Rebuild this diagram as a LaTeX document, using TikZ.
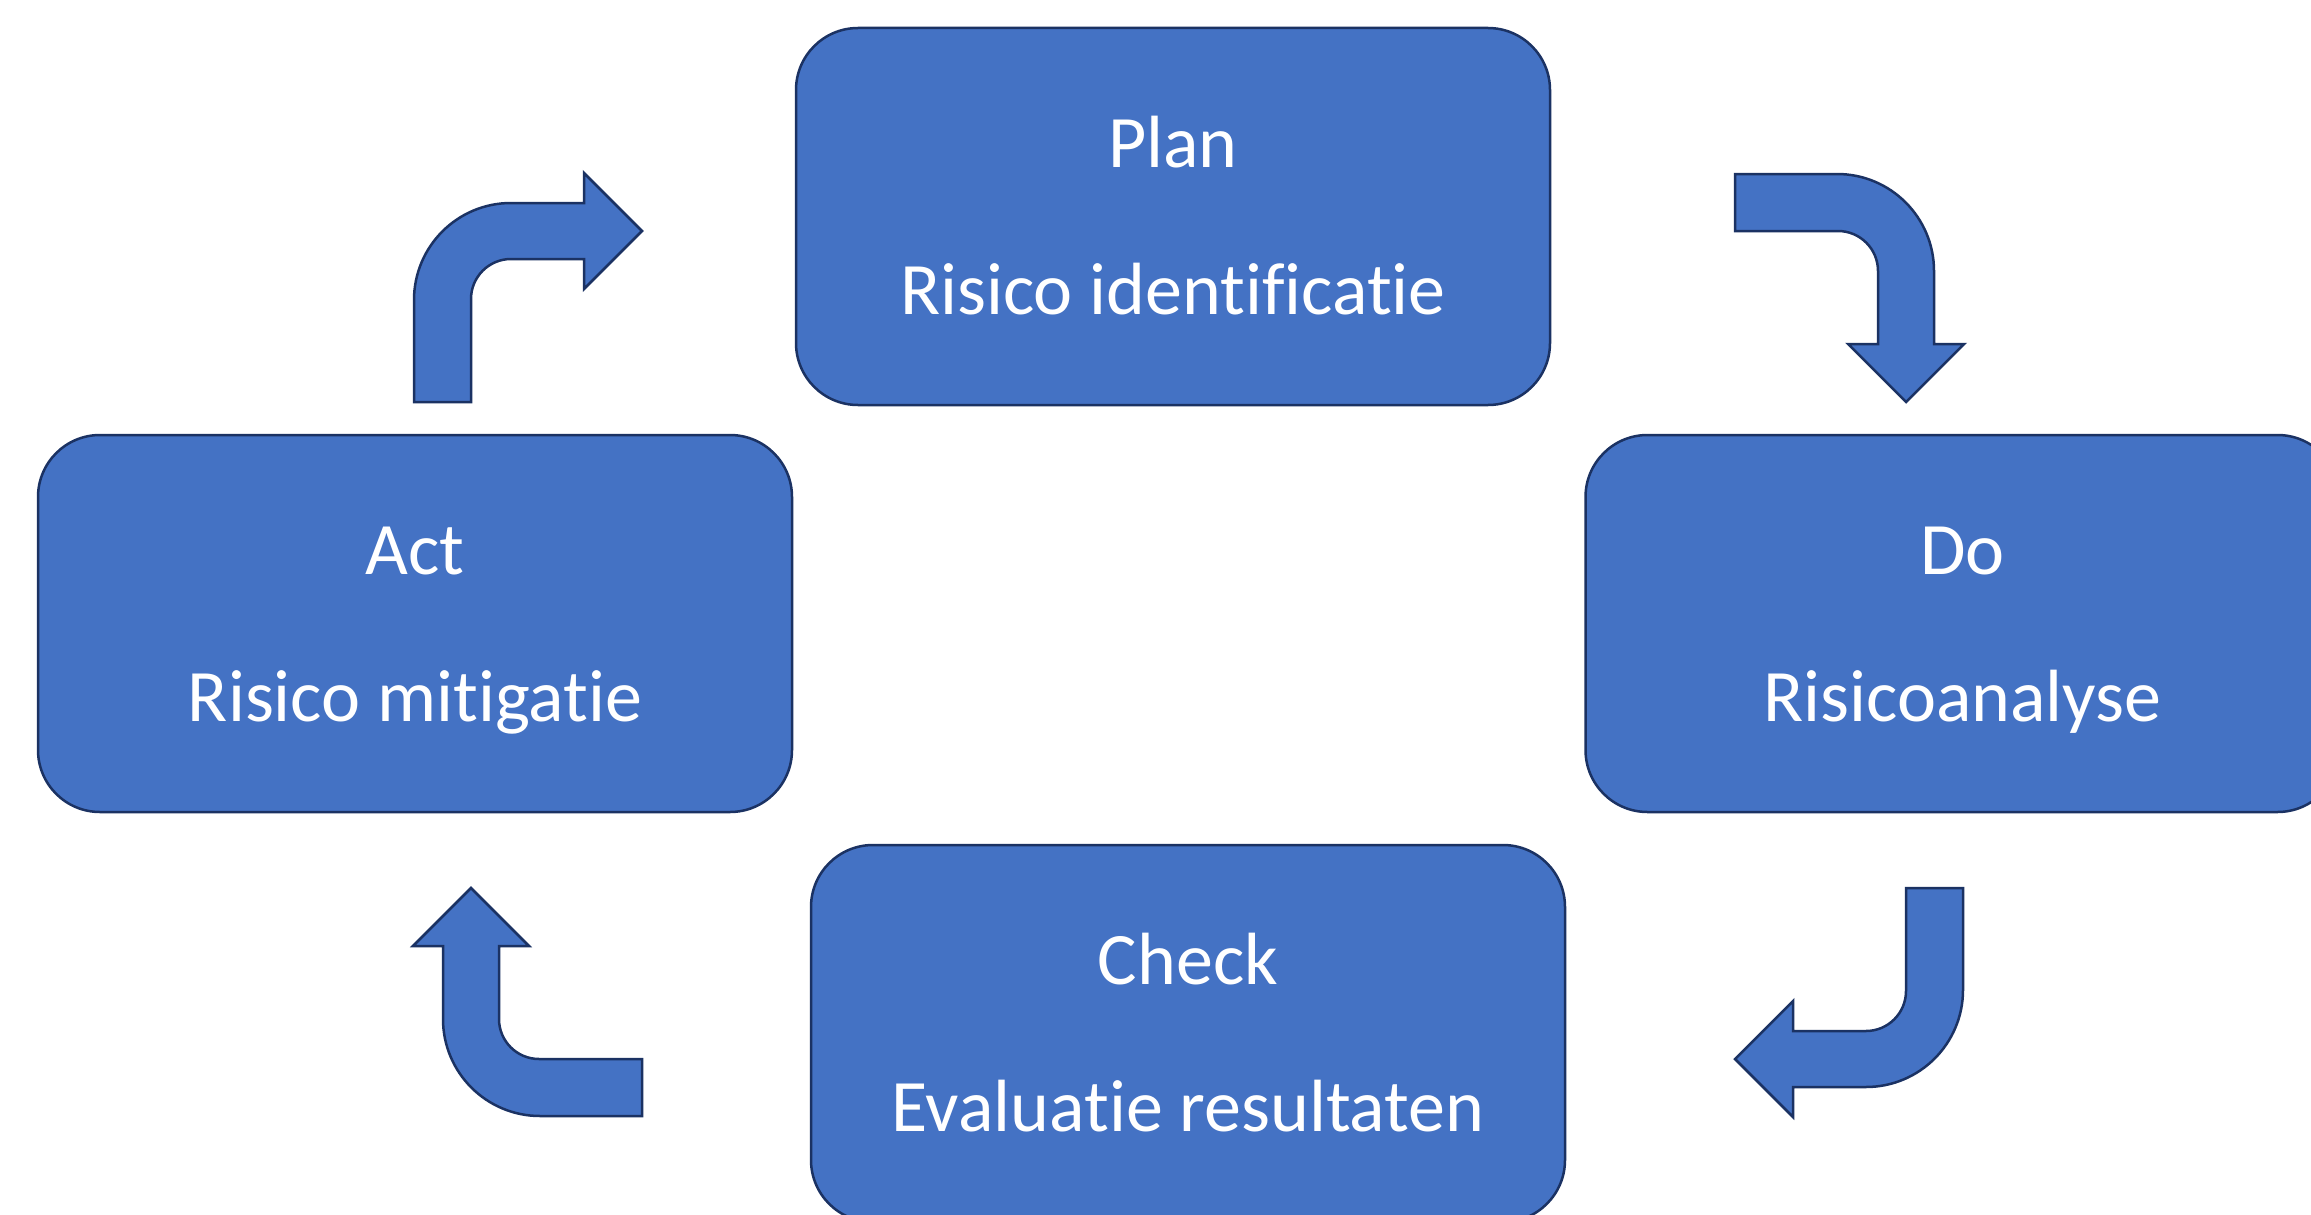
\documentclass[tikz,border=0pt]{standalone}
\usepackage{fontspec}
\setmainfont{Carlito}[Ligatures={NoCommon}]
\usetikzlibrary{calc}
\definecolor{boxblue}{HTML}{4472C4}
\definecolor{boxline}{HTML}{1B3263}
\tikzset{
  pdcabox/.style={rectangle, rounded corners=62pt, minimum width=754pt, minimum height=377pt, inner sep=0pt, fill=boxblue, draw=boxline, line width=2.5pt},
  boxlabel/.style={text=white, font=\fontsize{74}{88}\selectfont, anchor=base, inner sep=0pt},
  arrowshape/.style={fill=boxblue, draw=boxline, line width=2.5pt, line join=miter}
}
\newcommand{\bentArrowPath}{\path[arrowshape] (0,199) -- (0,97) arc[start angle=180,end angle=270,radius=97pt] -- (170,0) -- (170,-30) -- (228,28) -- (170,86) -- (170,56) -- (97,56) arc[start angle=270,end angle=180,radius=40pt] -- (57,199) -- cycle;}
\begin{document}
\begin{tikzpicture}[x=1pt,y=1pt,yscale=-1]
\useasboundingbox (0,0) rectangle (2311,1215);
\clip (0,0) rectangle (2311,1215);
\path[fill=white] (0,0) rectangle (2311,1215);

\node[pdcabox] (plan) at (1173,216.5) {};
\node[pdcabox] (act) at (415,623.5) {};
\node[pdcabox] (do) at (1962.5,623.5) {};
\node[pdcabox] (check) at (1188,1033.5) {};

\node[boxlabel] (planA) at ($(plan.north)+(0,141)$) {Plan};
\node[boxlabel] (planB) at ($(plan.north)+(0,288)$) {Risico identificatie};
\node[boxlabel] (actA) at ($(act.north)+(0,141)$) {Act};
\node[boxlabel] (actB) at ($(act.north)+(0,288)$) {Risico mitigatie};
\node[boxlabel] (doA) at ($(do.north)+(0,141)$) {Do};
\node[boxlabel] (doB) at ($(do.north)+(0,288)$) {Risicoanalyse};
\node[boxlabel] (checkA) at ($(check.north)+(0,141)$) {Check};
\node[boxlabel] (checkB) at ($(check.north)+(0,288)$) {Evaluatie resultaten};

\begin{scope}[shift={(414,203)}]\bentArrowPath\end{scope}
\begin{scope}[shift={(1934,174)},rotate=90]\bentArrowPath\end{scope}
\begin{scope}[shift={(1963,1087)},rotate=180]\bentArrowPath\end{scope}
\begin{scope}[shift={(443,1116)},rotate=270]\bentArrowPath\end{scope}
\end{tikzpicture}
\end{document}
